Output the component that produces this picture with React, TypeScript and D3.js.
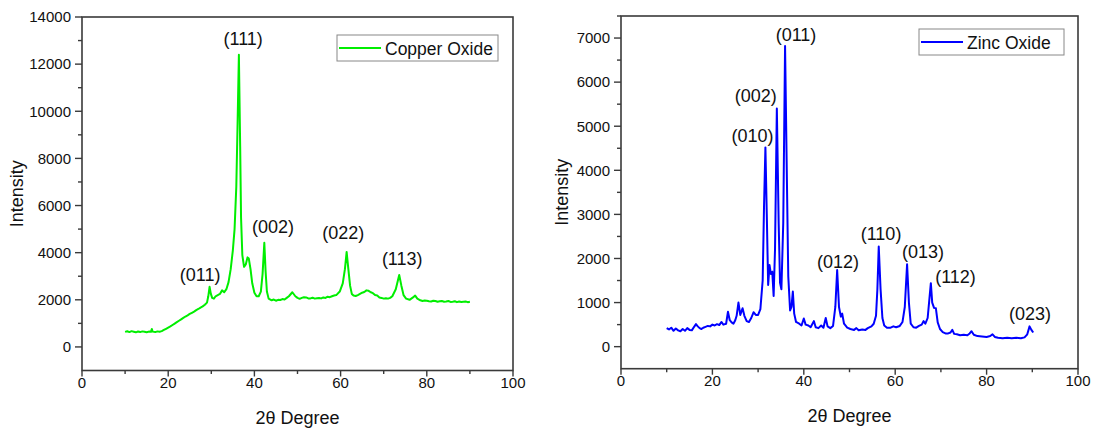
import React from "react";
import * as d3 from "d3";

// ---------- DATA ----------
const copperX = [10, 10.5, 11, 11.5, 12, 12.5, 13, 13.5, 14, 14.5, 15, 15.5, 16, 16.2, 16.4, 17, 17.5, 18, 18.5, 19, 19.5, 20, 20.5, 21, 21.5, 22, 22.5, 23, 23.5, 24, 24.5, 25, 25.5, 26, 26.5, 27, 27.5, 28, 28.5, 29, 29.3, 29.6, 29.9, 30.2, 30.6, 31, 31.5, 32, 32.5, 33, 33.5, 34, 34.5, 35, 35.4, 35.8, 36.1, 36.4, 36.7, 36.9, 37.2, 37.6, 38, 38.4, 38.7, 39.1, 39.5, 40, 40.5, 41, 41.5, 41.9, 42.3, 42.6, 42.9, 43.3, 44, 44.5, 45, 45.5, 46, 46.5, 47, 47.5, 48, 48.8, 49.5, 50, 50.5, 51, 51.5, 52, 52.5, 53, 53.5, 54, 54.5, 55, 55.5, 56, 56.5, 57, 57.5, 58, 58.5, 59, 59.8, 60.5, 61, 61.4, 61.8, 62.2, 62.6, 63, 63.5, 64, 64.5, 65, 65.5, 66, 66.5, 67, 67.5, 68, 68.5, 69, 69.5, 70, 70.5, 71, 71.5, 72, 72.8, 73.6, 74.1, 74.6, 75.2, 76, 76.8, 77.3, 77.8, 78.5, 79, 79.5, 80, 80.5, 81, 81.5, 82, 82.5, 83, 83.5, 84, 84.5, 85, 85.5, 86, 86.5, 87, 87.5, 88, 88.5, 89, 89.5, 90];
const copperY = [640, 665, 630, 670, 645, 620, 655, 630, 660, 640, 620, 650, 640, 760, 650, 630, 660, 645, 670, 720, 770, 820, 870, 930, 990, 1050, 1110, 1170, 1230, 1290, 1340, 1400, 1450, 1500, 1560, 1610, 1670, 1720, 1790, 1880, 2150, 2550, 2250, 2080, 2050, 2150, 2200, 2250, 2400, 2320, 2450, 2750, 3300, 4100, 5000, 6800, 9500, 12400, 8500, 5500, 3900, 3400, 3500, 3800, 3750, 3300, 2700, 2300, 2150, 2150, 2350, 3100, 4420, 3200, 2350, 2050, 1980, 2010, 1960, 2000, 1990, 2030, 2010, 2080, 2150, 2320, 2150, 2080, 2040, 2080, 2110, 2100, 2060, 2060, 2090, 2050, 2070, 2080, 2060, 2100, 2080, 2130, 2110, 2150, 2180, 2200, 2350, 2700, 3300, 4030, 3300, 2600, 2250, 2180, 2160, 2200, 2250, 2300, 2330, 2400, 2380, 2320, 2280, 2200, 2180, 2100, 2080, 2050, 2070, 2050, 2080, 2150, 2450, 3050, 2600, 2200, 2050, 2000, 2100, 2180, 2050, 1980, 1950, 1970, 1960, 1940, 1930, 1960, 1950, 1920, 1940, 1950, 1920, 1930, 1950, 1910, 1920, 1940, 1900, 1930, 1910, 1920, 1930, 1900, 1920];

const zincX = [10, 10.5, 11, 11.5, 12, 12.5, 13, 13.5, 14, 14.5, 15, 15.5, 16, 16.4, 16.8, 17.2, 17.6, 18, 18.5, 19, 19.5, 20, 20.5, 21, 21.5, 22, 22.4, 23, 23.4, 23.8, 24.2, 24.6, 25, 25.3, 25.7, 26.1, 26.6, 27, 27.5, 28, 28.5, 29, 29.5, 30, 30.5, 31, 31.3, 31.6, 31.9, 32.2, 32.5, 32.8, 33.1, 33.4, 33.7, 34.1, 34.5, 34.8, 35.1, 35.5, 35.9, 36.3, 36.6, 37, 37.3, 37.6, 37.9, 38.3, 39, 39.5, 40, 40.4, 41, 41.5, 42.2, 42.6, 43.2, 43.8, 44.3, 44.8, 45.2, 45.8, 46.4, 46.9, 47.3, 47.7, 48.1, 48.4, 48.8, 49.5, 50.2, 51, 51.5, 52, 52.8, 53.5, 54, 54.8, 55.3, 55.8, 56.1, 56.4, 56.8, 57.2, 57.6, 58.2, 59, 59.6, 60.2, 61, 61.6, 62.1, 62.6, 63, 63.4, 64, 64.6, 65.2, 65.8, 66.2, 66.6, 67.1, 67.5, 67.8, 68.1, 68.5, 68.9, 69.3, 69.8, 70.4, 71, 71.6, 72.1, 72.5, 72.9, 73.5, 74.2, 75, 75.8, 76.3, 76.7, 77.2, 78, 79, 80, 80.8, 81.3, 81.8, 82.5, 83.5, 84.5, 85.5, 86.5, 87.5, 88.3, 88.9, 89.4, 89.8, 90.2];
const zincY = [420, 390, 430, 360, 410, 370, 350, 400, 360, 420, 380, 370, 450, 510, 460, 420, 400, 430, 450, 470, 460, 500, 480, 510, 490, 560, 500, 520, 790, 600, 550, 520, 600, 700, 1000, 720, 870, 700, 580, 560, 650, 780, 720, 720, 850, 1500, 3200, 4520, 3000, 1400, 1850, 1650, 1700, 1150, 2200, 5400, 2800, 1450, 1300, 2800, 6820, 3800, 1600, 820, 900, 1250, 750, 560, 520, 480, 640, 500, 480, 440, 580, 440, 420, 480, 430, 650, 460, 420, 470, 900, 1740, 900, 680, 750, 520, 430, 400, 380, 420, 370, 390, 380, 420, 460, 520, 700, 1300, 2270, 1300, 650, 480, 430, 430, 460, 440, 470, 560, 900, 1870, 1000, 520, 440, 430, 470, 500, 580, 520, 650, 1100, 1440, 1000, 880, 870, 550, 400, 330, 300, 300, 320, 380, 290, 280, 260, 270, 260, 300, 350, 270, 240, 230, 220, 240, 280, 220, 200, 190, 200, 190, 200, 190, 210, 280, 460, 380, 320];

const copperLabels = ["(011)", "(111)", "(002)", "(022)", "(113)"];
const copperLabelX = [27.4, 37.4, 44.3, 60.6, 74.3];
const copperLabelY = [2800, 12800, 4840, 4580, 3480];

const zincLabels = ["(010)", "(002)", "(011)", "(012)", "(110)", "(013)", "(112)", "(023)"];
const zincLabelX = [28.8, 29.5, 38.3, 47.5, 56.9, 66.1, 73.2, 89.5];
const zincLabelY = [4650, 5555, 6940, 1786, 2420, 2014, 1446, 608];

const xTicks = [0, 20, 40, 60, 80, 100];
const copperYTicks = [0, 2000, 4000, 6000, 8000, 10000, 12000, 14000];
const zincYTicks = [0, 1000, 2000, 3000, 4000, 5000, 6000, 7000];

const FONT = "Arial, 'Liberation Sans', Helvetica, sans-serif";
const AXIS = "#3a3a3a";

type PanelProps = {
  xs: number[];
  ys: number[];
  color: string;
  left: number;
  right: number;
  top: number;
  bottom: number;
  yDomain: [number, number];
  yTicks: number[];
  yMinorStep: number;
  labels: string[];
  labelX: number[];
  labelY: number[];
  legend: string;
  legendBox: [number, number, number, number];
  yTitleX: number;
};

function Panel(p: PanelProps) {
  const x = d3.scaleLinear().domain([0, 100]).range([p.left, p.right]);
  const y = d3.scaleLinear().domain(p.yDomain).range([p.bottom, p.top]);
  const pts: [number, number][] = p.xs.map((v, i) => [v, p.ys[i]]);
  const line = d3.line<[number, number]>().x((d) => x(d[0])).y((d) => y(d[1]));
  const xMinor = d3.range(10, 100, 20);
  const yMinor = d3.range(p.yDomain[0], p.yDomain[1] + 1, p.yMinorStep).filter((v) => !p.yTicks.includes(v) && v > p.yDomain[0]);
  const [lx, ly, lw, lh] = p.legendBox;
  return (
    <g fontFamily={FONT}>
      <path d={line(pts) || ""} fill="none" stroke={p.color} strokeWidth={2} strokeLinejoin="round" />
      <rect x={p.left} y={p.top} width={p.right - p.left} height={p.bottom - p.top} fill="none" stroke={AXIS} strokeWidth={1.6} />
      {xTicks.map((t) => (
        <g key={"xt" + t}>
          <line x1={x(t)} x2={x(t)} y1={p.bottom} y2={p.bottom + 6} stroke={AXIS} strokeWidth={1.4} />
          <text x={x(t)} y={p.bottom + 17} textAnchor="middle" fontSize={15} fill="#111">{t}</text>
        </g>
      ))}
      {xMinor.map((t) => (
        <line key={"xm" + t} x1={x(t)} x2={x(t)} y1={p.bottom} y2={p.bottom + 3.5} stroke={AXIS} strokeWidth={1.4} />
      ))}
      {p.yTicks.map((t) => (
        <g key={"yt" + t}>
          <line x1={p.left - 7} x2={p.left} y1={y(t)} y2={y(t)} stroke={AXIS} strokeWidth={1.4} />
          <text x={p.left - 11} y={y(t) + 5.3} textAnchor="end" fontSize={15} fill="#111">{t}</text>
        </g>
      ))}
      {yMinor.map((t) => (
        <line key={"ym" + t} x1={p.left - 4} x2={p.left} y1={y(t)} y2={y(t)} stroke={AXIS} strokeWidth={1.4} />
      ))}
      <text x={(p.left + p.right) / 2} y={p.bottom + 53} textAnchor="middle" fontSize={18} fill="#111">2θ Degree</text>
      <text transform={`translate(${p.yTitleX},${(p.top + p.bottom) / 2}) rotate(-90)`} textAnchor="middle" fontSize={18} fill="#111">Intensity</text>
      {p.labels.map((s, i) => (
        <text key={"lb" + i} x={x(p.labelX[i])} y={y(p.labelY[i])} textAnchor="middle" fontSize={18} fill="#111">{s}</text>
      ))}
      <rect x={lx} y={ly} width={lw} height={lh} fill="#fff" stroke="#888" strokeWidth={1} />
      <line x1={lx + 2} x2={lx + 44} y1={ly + lh / 2} y2={ly + lh / 2} stroke={p.color} strokeWidth={2} />
      <text x={lx + 48} y={ly + lh / 2 + 6.5} fontSize={17.5} fill="#111">{p.legend}</text>
    </g>
  );
}

export default function App() {
  return (
    <svg width={1098} height={429} style={{ position: "absolute", left: 0, top: 0, background: "#fff" }}>
      <rect width={1098} height={429} fill="#fff" />
      <Panel
        xs={copperX}
        ys={copperY}
        color="#00ee00"
        left={82}
        right={513}
        top={17}
        bottom={370.5}
        yDomain={[-1000, 14000]}
        yTicks={copperYTicks}
        yMinorStep={1000}
        labels={copperLabels}
        labelX={copperLabelX}
        labelY={copperLabelY}
        legend="Copper Oxide"
        legendBox={[337, 35, 161, 26]}
        yTitleX={23}
      />
      <Panel
        xs={zincX}
        ys={zincY}
        color="#0000ff"
        left={621}
        right={1078}
        top={16}
        bottom={368.7}
        yDomain={[-500, 7500]}
        yTicks={zincYTicks}
        yMinorStep={500}
        labels={zincLabels}
        labelX={zincLabelX}
        labelY={zincLabelY}
        legend="Zinc Oxide"
        legendBox={[919, 29, 145, 26]}
        yTitleX={568}
      />
    </svg>
  );
}
